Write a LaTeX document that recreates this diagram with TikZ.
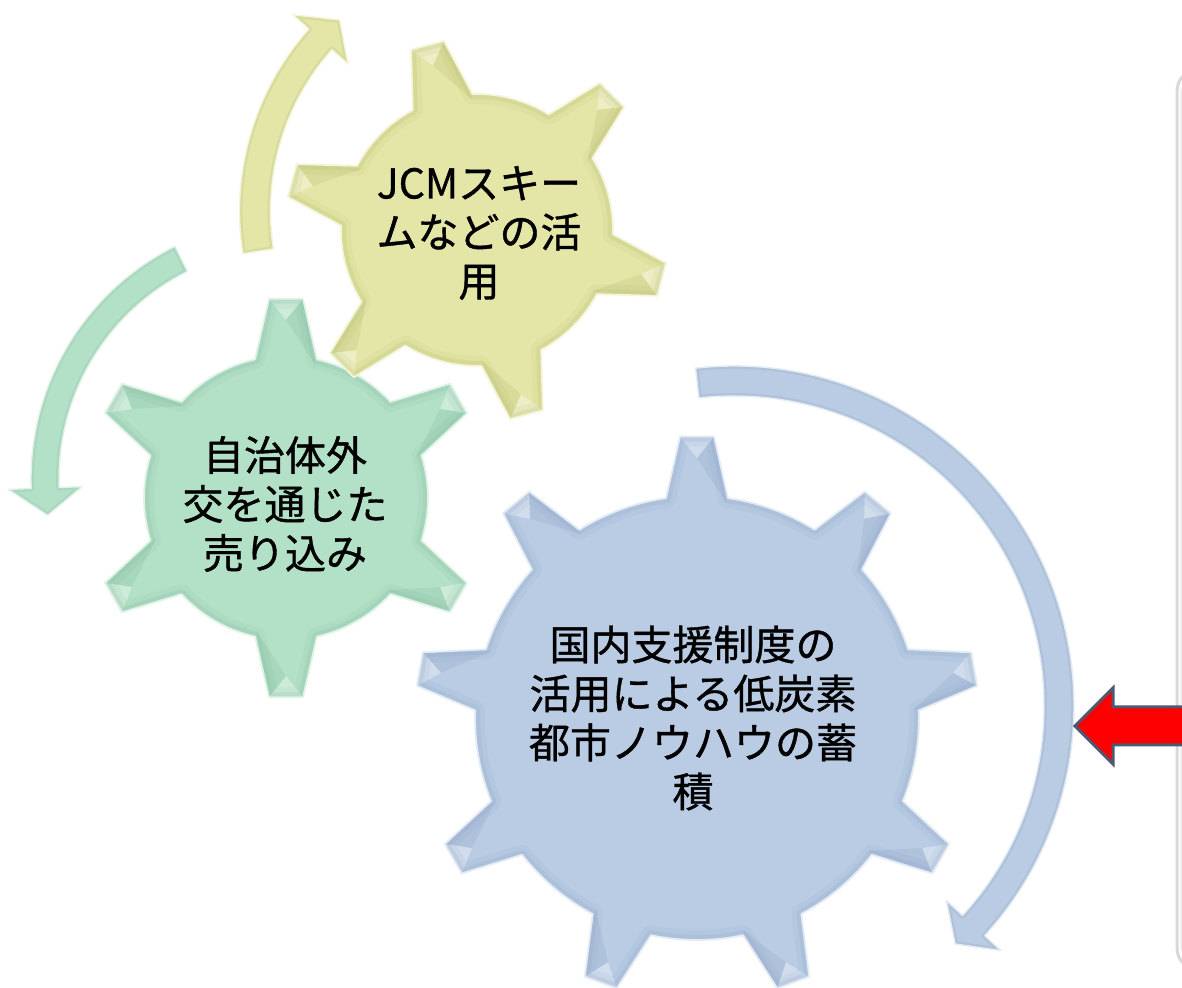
\documentclass[tikz,border=0pt]{standalone}
\usepackage{fontspec}
\newfontfamily\jp[FakeBold=0.9]{Noto Sans CJK JP}
\definecolor{yel}{HTML}{E3E6A6}
\definecolor{yeld}{HTML}{B4B86C}
\definecolor{grn}{HTML}{B3E1C7}
\definecolor{grnd}{HTML}{7FB898}
\definecolor{blu}{HTML}{B9CCE4}
\definecolor{blud}{HTML}{8AA2C4}
\definecolor{redfill}{HTML}{FF0000}
\definecolor{redborder}{HTML}{4D5872}
\newcommand{\drawgear}[8]{%
  \pgfmathsetmacro\gs{360/#3}%
  \pgfmathsetmacro\gb{asin(31/#5)}%
  \pgfmathsetmacro\gg{asin(17/#6)}%
  \pgfmathtruncatemacro\gn{#3-1}%
  \def\gp{({#4-\gb}:#5) \foreach \k in {0,...,\gn} { -- ({#4+\k*\gs-\gb}:#5) -- ({#4+\k*\gs-\gg}:#6) -- ({#4+\k*\gs+\gg}:#6) -- ({#4+\k*\gs+\gb}:#5) arc[start angle={#4+\k*\gs+\gb}, end angle={#4+(\k+1)*\gs-\gb}, radius=#5] } -- cycle}%
  \begin{scope}[shift={(#1,#2)}]
    \fill[#7] \gp;
    \begin{scope}
      \clip \gp;
      \foreach \k in {0,...,\gn} {
        \fill[#8, opacity=0.22] ({#4+\k*\gs-\gg}:#6) -- ({#4+\k*\gs}:{#6-22}) -- ({#4+\k*\gs-\gb}:{#5-6}) -- cycle;
        \fill[white, opacity=0.35] ({#4+\k*\gs+\gg}:#6) -- ({#4+\k*\gs}:{#6-22}) -- ({#4+\k*\gs-\gg}:#6) -- cycle;
      }
      \draw[#8, line width=20, opacity=0.10, line join=round] \gp;
      \draw[#8, line width=10, opacity=0.18, line join=round] \gp;
    \end{scope}
    \draw[white!60!#7, line width=1.8, line join=round] \gp;
  \end{scope}%
}
\newcommand{\circarrow}[9]{%
  \def\ap{(#6:{#3+#4}) arc[start angle=#6, end angle=#7, radius={#3+#4}] -- (#7:{#3+#5}) -- (#8:#3) -- (#7:{#3-#5}) -- (#7:{#3-#4}) arc[start angle=#7, end angle=#6, radius={#3-#4}] -- cycle}%
  \begin{scope}[shift={(#1,#2)}]
    \fill[#9] \ap;
    \begin{scope}
      \clip \ap;
      \draw[#9!70!black, line width=6, opacity=0.15, line join=round] \ap;
    \end{scope}
    \draw[white!60!#9, line width=1.4, line join=round] \ap;
  \end{scope}%
}
\tikzset{txt/.style={align=center, inner sep=0pt, text=black, font=\jp\fontsize{41}{49}\selectfont}}
\begin{document}
\begin{tikzpicture}[x=1pt,y=1pt]
\useasboundingbox (0,0) rectangle (1182,987);
\fill[white] (0,0) rectangle (1182,987);
% frame at right edge
\draw[gray!30, line width=3, rounded corners=22] (1177,17) rectangle (1240,918);
\draw[gray!15, line width=1.5, rounded corners=22] (1181,21) rectangle (1240,914);
% circular arrows
\circarrow{513}{776}{258}{15.5}{37}{189}{138.3}{132.2}{yel}
\circarrow{291}{508}{246}{14}{37}{116.5}{182.1}{188.5}{grn}
\circarrow{734}{281}{325}{15}{37}{96.5}{-42.5}{-47.1}{blu}
% gears
\drawgear{286}{489}{6}{90}{142}{200}{grn}{grnd}
\drawgear{477}{757}{6}{105}{136}{192}{yel}{yeld}
\drawgear{697}{269}{9}{90}{222}{282}{blu}{blud}
% texts
\node[txt] (yt) at (479,754) {JCMスキー\\ムなどの活\\用};
\node[txt] (gt) at (285,483) {自治体外\\交を通じた\\売り込み};
\node[txt] (bt) at (693,269) {国内支援制度の\\活用による低炭素\\都市ノウハウの蓄\\積};
% red arrow
\draw[fill=redfill, draw=redborder, line width=3, line join=miter]
  (1075,261) -- (1113,299) -- (1113,280) -- (1195,280) -- (1195,242) -- (1113,242) -- (1113,223) -- cycle;
\end{tikzpicture}
\end{document}
